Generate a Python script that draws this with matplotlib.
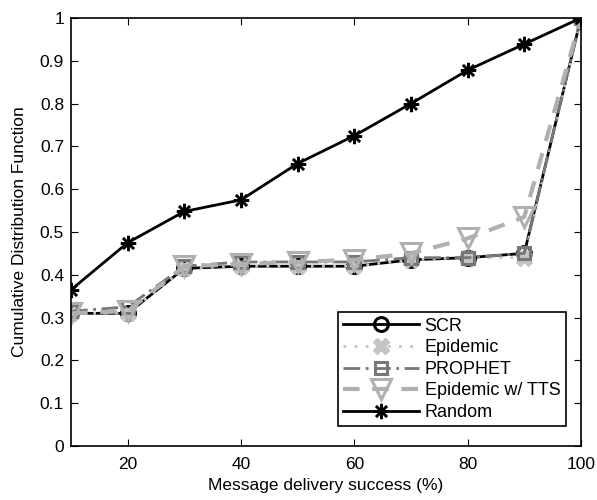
import matplotlib
matplotlib.use('Agg')
import matplotlib.pyplot as plt

plt.rcParams['font.family'] = ['Liberation Sans', 'DejaVu Sans']

x = [10, 20, 30, 40, 50, 60, 70, 80, 90, 100]
scr = [0.31, 0.31, 0.415, 0.42, 0.42, 0.42, 0.435, 0.44, 0.45, 1.0]
epidemic = [0.31, 0.31, 0.415, 0.42, 0.42, 0.42, 0.435, 0.44, 0.44, 1.0]
prophet = [0.315, 0.325, 0.42, 0.43, 0.43, 0.43, 0.44, 0.44, 0.45, 1.0]
tts = [0.31, 0.315, 0.42, 0.425, 0.43, 0.435, 0.45, 0.485, 0.535, 1.0]
rnd = [0.365, 0.475, 0.548, 0.575, 0.66, 0.725, 0.80, 0.878, 0.939, 1.0]

fig = plt.figure(figsize=(5.97, 5.0), dpi=100)
ax = fig.add_axes([0.119, 0.108, 0.854, 0.856])

ax.plot(x, scr, color='black', lw=2, marker='o', ms=10, mfc='none', mew=2.2, label='SCR')
ax.plot(x, epidemic, color='#c4c4c4', lw=2, ls=(0, (1, 3)), marker='X', ms=11,
        mfc='#c4c4c4', mec='#c4c4c4', label='Epidemic')
ax.plot(x, prophet, color='#777777', lw=2, ls=(0, (6, 2, 1, 2)), marker='s', ms=9,
        mfc='none', mew=2.2, label='PROPHET')
ax.plot(x, tts, color='#b0b0b0', lw=3, ls=(0, (4, 3)), marker='v', ms=14,
        mfc='none', mew=2.2, label='Epidemic w/ TTS')
ax.plot(x, rnd, color='black', lw=2, marker=(8, 2, 0), ms=11, mew=1.8, label='Random')

ax.set_xlim(10, 100)
ax.set_ylim(0, 1)
ax.set_xticks([20, 40, 60, 80, 100])
ax.set_yticks([0, 0.1, 0.2, 0.3, 0.4, 0.5, 0.6, 0.7, 0.8, 0.9, 1])
ax.set_yticklabels(['0', '0.1', '0.2', '0.3', '0.4', '0.5', '0.6', '0.7', '0.8', '0.9', '1'])
ax.tick_params(direction='in', top=True, right=True, labelsize=12.5, length=5, pad=5)
ax.tick_params(axis='x', pad=8)
for s in ax.spines.values():
    s.set_linewidth(1.2)
ax.set_xlabel('Message delivery success (%)', fontsize=12.5, labelpad=4)
ax.set_ylabel('Cumulative Distribution Function', fontsize=12.5, labelpad=9)

leg = ax.legend(loc='lower right', fontsize=13, frameon=True, fancybox=False,
                edgecolor='black', framealpha=1, handlelength=4.2,
                borderpad=0.3, labelspacing=0.25, handletextpad=0.3,
                bbox_to_anchor=(0.988, 0.025))
leg.get_frame().set_linewidth(1.2)

fig.savefig('out.png', dpi=100)
